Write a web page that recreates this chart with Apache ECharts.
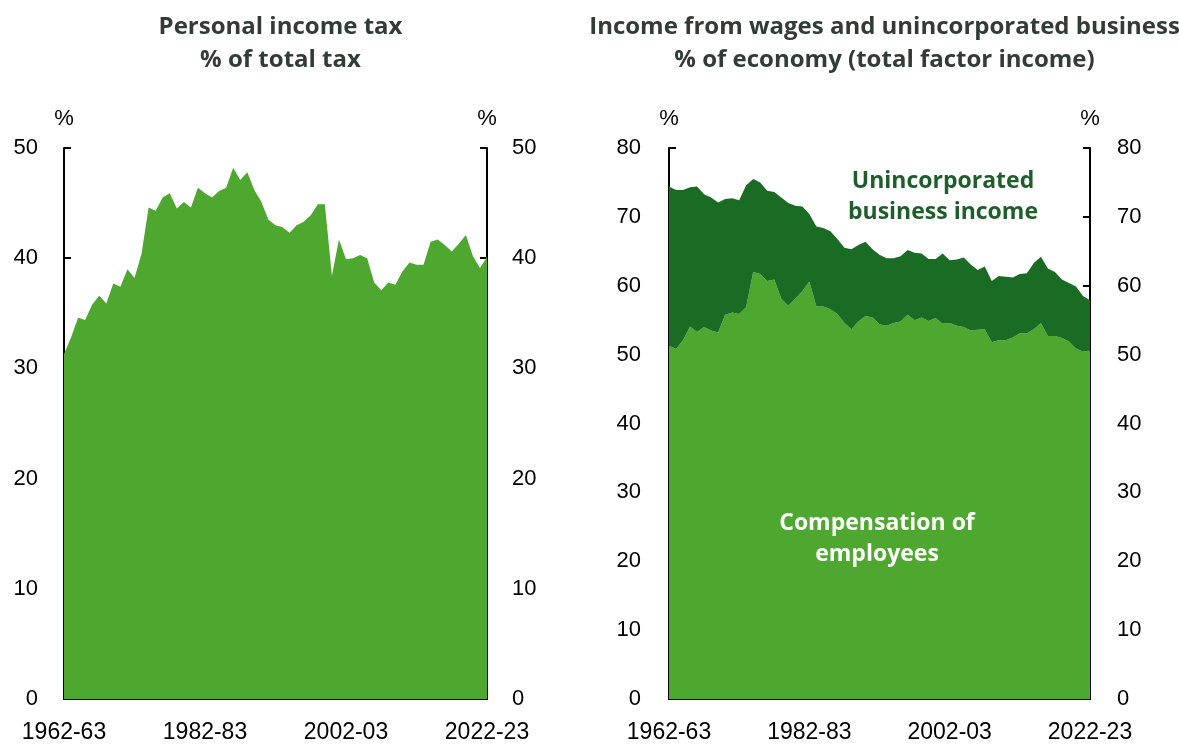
<!DOCTYPE html>
<html>
<head>
<meta charset="utf-8">
<script src="https://cdn.jsdelivr.net/npm/echarts@6/dist/echarts.min.js"></script>
<style>
  html, body { margin: 0; padding: 0; background: #ffffff; }
  #chart { width: 1179px; height: 744px; }
</style>
</head>
<body>
<div id="chart"></div>
<script>
// Financial years 1962-63 .. 2022-23
const years = [];
for (let y = 1962; y <= 2022; y++) {
  years.push(y + '-' + String((y + 1) % 100).padStart(2, '0'));
}

// Personal income tax, % of total tax
const personalIncomeTax = [
  31.3, 32.8, 34.6, 34.4, 35.8, 36.6, 35.9, 37.7, 37.4, 39.0,
  38.2, 40.4, 44.6, 44.3, 45.5, 45.9, 44.5, 45.1, 44.6, 46.4,
  45.9, 45.5, 46.1, 46.4, 48.2, 47.1, 47.8, 46.2, 45.1, 43.5,
  43.0, 42.8, 42.3, 43.0, 43.3, 43.9, 44.9, 44.9, 38.4, 41.7,
  39.9, 40.0, 40.3, 40.0, 37.8, 37.1, 37.8, 37.6, 38.8, 39.6,
  39.4, 39.4, 41.5, 41.7, 41.2, 40.6, 41.3, 42.1, 40.2, 39.1,
  40.1
];

// Compensation of employees, % of total factor income
const compensation = [
  51.3, 50.8, 52.1, 54.1, 53.3, 54.0, 53.5, 53.2, 55.8, 56.1,
  55.9, 56.9, 62.0, 61.7, 60.7, 60.9, 58.1, 57.1, 58.1, 59.2,
  60.6, 57.0, 57.0, 56.6, 55.9, 54.6, 53.7, 54.8, 55.6, 55.4,
  54.4, 54.2, 54.6, 54.8, 55.8, 55.0, 55.4, 54.9, 55.3, 54.5,
  54.6, 54.2, 54.0, 53.5, 53.6, 53.7, 51.8, 52.1, 52.1, 52.5,
  53.1, 53.1, 53.7, 54.6, 52.7, 52.7, 52.4, 51.9, 50.9, 50.4,
  50.6
];

// Unincorporated business income, % of total factor income
const unincorporated = [
  23.1, 23.1, 21.8, 20.2, 21.1, 19.3, 19.3, 18.9, 16.8, 16.6,
  16.5, 17.7, 13.5, 13.3, 13.1, 12.7, 14.7, 14.9, 13.5, 12.3,
  9.8, 11.6, 11.4, 11.3, 10.9, 10.9, 11.6, 11.1, 10.8, 9.9,
  10.1, 9.8, 9.4, 9.5, 9.4, 9.8, 9.3, 9.0, 8.6, 10.2,
  9.1, 9.6, 10.1, 9.6, 8.7, 9.1, 8.9, 9.3, 9.2, 8.7,
  8.6, 8.7, 9.6, 9.6, 9.8, 9.3, 8.5, 8.5, 9.0, 8.1,
  7.3
];

const LIGHT = '#4ea72e';
const DARK = '#1a6b24';
const AXIS_FONT = '"Liberation Sans", Arial, sans-serif';
const TITLE_FONT = '"Open Sans", "Noto Sans", sans-serif';

function xAxis(gridIndex) {
  return {
    type: 'category',
    gridIndex: gridIndex,
    data: years,
    boundaryGap: false,
    axisLine: { lineStyle: { color: '#000', width: 2 } },
    axisTick: { inside: true, length: 7, interval: 19, lineStyle: { color: '#000', width: 2 } },
    axisLabel: { interval: 19, color: '#000', fontSize: 23, fontFamily: AXIS_FONT, margin: 22 },
    splitLine: { show: false }
  };
}

function yAxis(gridIndex, max, position, margin) {
  return {
    type: 'value',
    gridIndex: gridIndex,
    position: position,
    min: 0,
    max: max,
    interval: 10,
    name: '%',
    nameLocation: 'end',
    nameGap: 18,
    nameTextStyle: { color: '#000', fontSize: 22, fontFamily: AXIS_FONT, align: 'center' },
    axisLine: { show: true, onZero: false, lineStyle: { color: '#000', width: 2 } },
    axisTick: { show: true, inside: true, length: 7, lineStyle: { color: '#000', width: 2 } },
    axisLabel: { color: '#000', fontSize: 22, fontFamily: AXIS_FONT, margin: margin },
    splitLine: { show: false }
  };
}

const chart = echarts.init(document.getElementById('chart'), null, { renderer: 'canvas' });

chart.setOption({
  animation: false,
  backgroundColor: '#ffffff',
  title: [
    {
      text: 'Personal income tax\n% of total tax',
      left: 275.5, top: 6, textAlign: 'center',
      textStyle: { color: '#333b37', fontSize: 24, fontWeight: 'bold', fontFamily: TITLE_FONT, lineHeight: 33 }
    },
    {
      text: 'Income from wages and unincorporated business\n% of economy (total factor income)',
      left: 879.5, top: 6, textAlign: 'center',
      textStyle: { color: '#333b37', fontSize: 24, fontWeight: 'bold', fontFamily: TITLE_FONT, lineHeight: 33 }
    }
  ],
  grid: [
    { left: 64, right: 692, top: 148, bottom: 45, containLabel: false },
    { left: 669, right: 89, top: 148, bottom: 45, containLabel: false }
  ],
  xAxis: [xAxis(0), xAxis(1)],
  yAxis: [
    yAxis(0, 50, 'left', 26),
    yAxis(0, 50, 'right', 25),
    yAxis(1, 80, 'left', 28),
    yAxis(1, 80, 'right', 27)
  ],
  series: [
    {
      name: 'Personal income tax',
      type: 'line',
      xAxisIndex: 0, yAxisIndex: 0,
      data: personalIncomeTax,
      symbol: 'none',
      lineStyle: { width: 0 },
      areaStyle: { color: LIGHT, opacity: 1 },
      z: 1
    },
    {
      name: 'Compensation of employees',
      type: 'line',
      xAxisIndex: 1, yAxisIndex: 2,
      stack: 'income',
      data: compensation,
      symbol: 'none',
      lineStyle: { width: 0 },
      areaStyle: { color: LIGHT, opacity: 1 },
      z: 1
    },
    {
      name: 'Unincorporated business income',
      type: 'line',
      xAxisIndex: 1, yAxisIndex: 2,
      stack: 'income',
      data: unincorporated,
      symbol: 'none',
      lineStyle: { width: 0 },
      areaStyle: { color: DARK, opacity: 1 },
      z: 1
    }
  ],
  graphic: [
    {
      type: 'text',
      x: 943, y: 197,
      style: {
        text: 'Unincorporated\nbusiness income',
        fill: '#1d5e2b',
        font: 'bold 23px ' + TITLE_FONT,
        lineHeight: 31,
        align: 'center',
        verticalAlign: 'middle'
      },
      z: 10
    },
    {
      type: 'text',
      x: 877, y: 539,
      style: {
        text: 'Compensation of\nemployees',
        fill: '#ffffff',
        font: 'bold 23px ' + TITLE_FONT,
        lineHeight: 31,
        align: 'center',
        verticalAlign: 'middle'
      },
      z: 10
    }
  ]
});
</script>
</body>
</html>
